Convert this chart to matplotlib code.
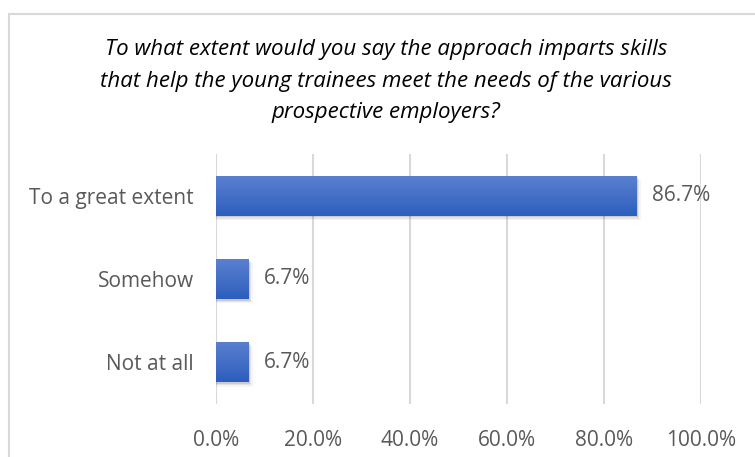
import numpy as np
import matplotlib.pyplot as plt
from matplotlib.patches import Rectangle
from matplotlib.colors import LinearSegmentedColormap

categories = ["To a great extent", "Somehow", "Not at all"]
shares = [0.867, 0.067, 0.067]
value_labels = ["86.7%", "6.7%", "6.7%"]
tick_values = [0.0, 0.2, 0.4, 0.6, 0.8, 1.0]
tick_labels = ["0.0%", "20.0%", "40.0%", "60.0%", "80.0%", "100.0%"]
title = ("To what extent would you say the approach imparts skills\n"
         "that help the young trainees meet the needs of the various\n"
         "prospective employers?")

plt.rcParams['font.family'] = ['Open Sans', 'DejaVu Sans']
grey = "#595959"

fig = plt.figure(figsize=(7.55, 4.57), dpi=100)
fig.patch.set_facecolor("white")

# chart border (runs off the right and bottom edges)
fig.patches.append(Rectangle((8.5 / 755, -0.05), 1.1, 0.05 + 1 - 13.5 / 457,
                             transform=fig.transFigure, fill=False,
                             edgecolor="#d9d9d9", linewidth=1.5))

ax = fig.add_axes([216 / 755, 1 - 404 / 457, 485 / 755, 250 / 457])

ypos = np.arange(len(categories))
bar_h = 0.48
grad = LinearSegmentedColormap.from_list("bar", ["#5a80d0", "#2d5ebd"])

for y, v, lab in zip(ypos, shares, value_labels):
    # soft drop shadow
    for k, a in enumerate([0.10, 0.07, 0.04]):
        off = 0.02 + 0.015 * k
        ax.add_patch(Rectangle((0, y - bar_h / 2 + off), v + 0.003 * (k + 1), bar_h,
                               facecolor="black", alpha=a, edgecolor="none", zorder=2))
    b = ax.barh(y, v, height=bar_h, color="#3f68c6", edgecolor="none", zorder=3)[0]
    img = ax.imshow(np.linspace(0, 1, 64).reshape(-1, 1), cmap=grad, aspect="auto",
                    extent=(0, v, y + bar_h / 2, y - bar_h / 2), zorder=4,
                    origin="upper")
    img.set_clip_path(b)
    ax.text(v + 0.032, y, lab, va="center", ha="left", fontsize=15, color=grey,
            zorder=5)

ax.set_xlim(0, 1.0)
ax.set_ylim(2.5, -0.5)

ax.set_xticks(tick_values)
ax.set_xticklabels(tick_labels, fontsize=15, color=grey)
ax.set_yticks(ypos)
ax.set_yticklabels(categories, fontsize=15, color=grey)
ax.tick_params(axis="both", length=0)
ax.tick_params(axis="x", pad=19)
ax.tick_params(axis="y", pad=16)

ax.grid(axis="x", color="#d9d9d9", linewidth=1.5, zorder=0)
ax.set_axisbelow(True)
for s in ax.spines.values():
    s.set_visible(False)

fig.text(386 / 755, 1 - 81 / 457, title, ha="center", va="center",
         fontsize=16, style="italic", color="black", linespacing=1.66)

fig.savefig("out.png", dpi=100)
